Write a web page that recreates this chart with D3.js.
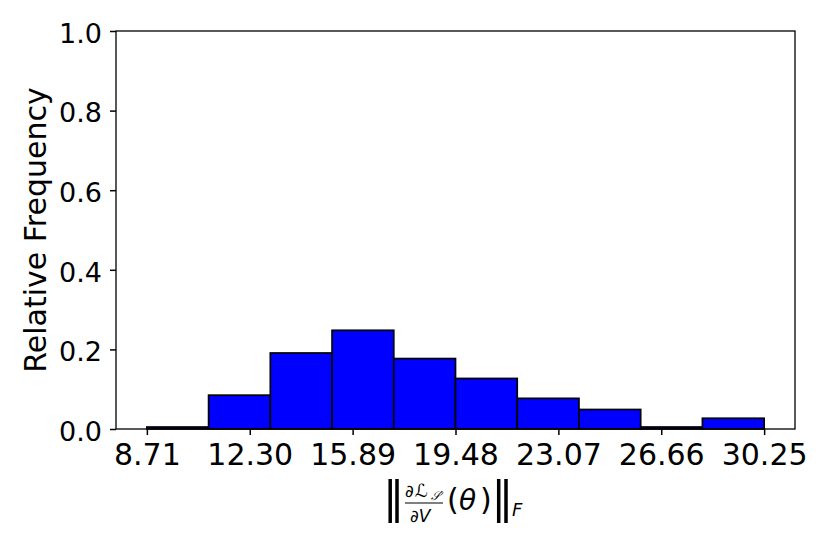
<!DOCTYPE html>
<html>
<head>
<meta charset="utf-8">
<script src="https://cdn.jsdelivr.net/npm/d3@7"></script>
<style>
  body { margin: 0; background: #fff; }
  text { font-family: "DejaVu Sans", sans-serif; fill: #000; }
</style>
</head>
<body>
<div id="chart"></div>
<script>
// histogram data
const binEdges = [8.71, 10.864, 13.018, 15.172, 17.326, 19.48, 21.634, 23.788, 25.942, 28.096, 30.25];
const freqs = [0.005, 0.085, 0.191, 0.248, 0.177, 0.127, 0.077, 0.049, 0.005, 0.027];
const xTicks = [8.71, 12.30, 15.89, 19.48, 23.07, 26.66, 30.25];
const yTicks = [0.0, 0.2, 0.4, 0.6, 0.8, 1.0];

const W = 830, H = 554;
const margin = {top: 31, right: 35, bottom: 125, left: 116};
const width = W - margin.left - margin.right,
      height = H - margin.top - margin.bottom;

const svg = d3.select('#chart').append('svg')
    .attr('width', W).attr('height', H);
const g = svg.append('g')
    .attr('transform', 'translate(' + margin.left + ',' + margin.top + ')');

// matplotlib-style 5% padding on x
const span = binEdges[binEdges.length - 1] - binEdges[0];
let x = d3.scaleLinear()
  .domain([binEdges[0] - span * 0.05, binEdges[binEdges.length - 1] + span * 0.05])
  .range([0, width]);
let y = d3.scaleLinear().domain([0, 1]).range([height, 0]);

// bars
g.append('g').selectAll('rect')
  .data(freqs)
  .enter().append('rect')
    .attr('x', (d, i) => x(binEdges[i]))
    .attr('width', (d, i) => x(binEdges[i + 1]) - x(binEdges[i]))
    .attr('y', d => y(d))
    .attr('height', d => y(0) - y(d))
    .attr('fill', '#0000ff')
    .attr('stroke', '#000')
    .attr('stroke-width', 1.7);

// frame
g.append('rect')
  .attr('x', 0).attr('y', 0).attr('width', width).attr('height', height)
  .attr('fill', 'none').attr('stroke', '#000').attr('stroke-width', 1.3);

// axes
const xAxis = g.append('g')
  .attr('transform', 'translate(0,' + height + ')')
  .call(d3.axisBottom(x).tickValues(xTicks).tickFormat(d3.format('.2f')).tickSize(6).tickPadding(6));
const yAxis = g.append('g')
  .call(d3.axisLeft(y).tickValues(yTicks).tickFormat(d3.format('.1f')).tickSize(6).tickPadding(8));
[xAxis, yAxis].forEach(a => {
  a.select('.domain').remove();
  a.selectAll('line').attr('stroke', '#000').attr('stroke-width', 1.5);
  a.selectAll('text').style('font-family', '"DejaVu Sans", sans-serif').attr('fill', '#000');
});
xAxis.selectAll('text').style('font-size', '30px').attr('dy', '0.8em');
yAxis.selectAll('text').style('font-size', '27px').attr('dy', '0.42em');

// y label
svg.append('text')
  .attr('transform', 'translate(46,' + (margin.top + height / 2) + ') rotate(-90)')
  .attr('text-anchor', 'middle')
  .style('font-size', '30px')
  .text('Relative Frequency');

// x label: ‖ ∂L_S'/∂V (θ) ‖_F
const lab = svg.append('g');
const bar = (cx) => lab.append('line')
  .attr('x1', cx).attr('x2', cx).attr('y1', 479).attr('y2', 523)
  .attr('stroke', '#000').attr('stroke-width', 3.5);
bar(390.2); bar(397);
lab.append('text').attr('x', 405).attr('y', 497).style('font-size', '17px').style('font-style', 'italic').text('\u2202');
lab.append('text').attr('x', 415).attr('y', 497).style('font-size', '18px').style('font-style', 'italic').text('\u2112');
lab.append('text').attr('x', 431).attr('y', 500).style('font-size', '12px').style('font-style', 'italic').text('\ud835\udcae\u2032');
lab.append('line').attr('x1', 405).attr('x2', 443).attr('y1', 503).attr('y2', 503).attr('stroke', '#000').attr('stroke-width', 1.2);
lab.append('text').attr('x', 410).attr('y', 521.5).style('font-size', '17px').style('font-style', 'italic').text('\u2202V');
lab.append('text').attr('x', 447).attr('y', 510).style('font-size', '30px').text('(');
lab.append('text').attr('x', 459).attr('y', 510).style('font-size', '28px').style('font-style', 'italic').text('\u03b8');
lab.append('text').attr('x', 480).attr('y', 510).style('font-size', '30px').text(')');
bar(498.7); bar(506);
lab.append('text').attr('x', 512).attr('y', 515.5).style('font-size', '18px').style('font-style', 'italic').text('F');
</script>
</body>
</html>
